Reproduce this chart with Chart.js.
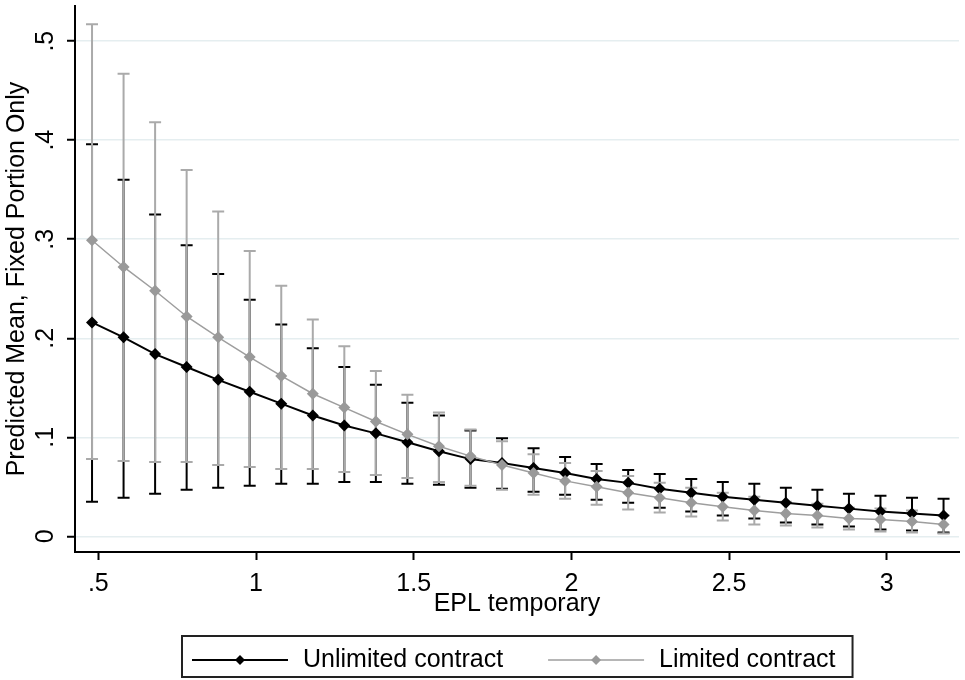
<!DOCTYPE html>
<html>
<head>
<meta charset="utf-8">
<title>Predicted mean by EPL temporary</title>
<script src="https://cdn.jsdelivr.net/npm/chart.js@4.4.1/dist/chart.umd.min.js"></script>
<style>
  html, body { margin: 0; padding: 0; background: #fff; }
  canvas { display: block; }
</style>
</head>
<body>
<canvas id="marginsChart" width="965" height="680"></canvas>
<script>
const eplTemporary = [0.48, 0.58, 0.68, 0.78, 0.88, 0.98, 1.08, 1.18, 1.28, 1.38,
                      1.48, 1.58, 1.68, 1.78, 1.88, 1.98, 2.08, 2.18, 2.28, 2.38,
                      2.48, 2.58, 2.68, 2.78, 2.88, 2.98, 3.08, 3.18];

const unlimitedMean = [0.216, 0.201, 0.184, 0.171, 0.158, 0.146, 0.134, 0.122, 0.112, 0.104,
                       0.095, 0.086, 0.078, 0.074, 0.069, 0.064, 0.058, 0.054, 0.048, 0.044,
                       0.040, 0.037, 0.034, 0.031, 0.028, 0.025, 0.023, 0.021];
const unlimitedLow  = [0.035, 0.039, 0.043, 0.047, 0.049, 0.051, 0.053, 0.053, 0.055, 0.055,
                       0.053, 0.052, 0.049, 0.048, 0.045, 0.042, 0.037, 0.034, 0.029, 0.025,
                       0.021, 0.018, 0.014, 0.012, 0.010, 0.007, 0.006, 0.004];
const unlimitedHigh = [0.396, 0.360, 0.325, 0.294, 0.265, 0.239, 0.214, 0.190, 0.171, 0.153,
                       0.135, 0.122, 0.107, 0.099, 0.089, 0.080, 0.073, 0.067, 0.063, 0.058,
                       0.055, 0.053, 0.049, 0.047, 0.043, 0.041, 0.039, 0.038];

const limitedMean = [0.299, 0.272, 0.248, 0.222, 0.201, 0.181, 0.162, 0.144, 0.130, 0.116,
                     0.103, 0.091, 0.081, 0.072, 0.064, 0.056, 0.050, 0.044, 0.039, 0.034,
                     0.030, 0.026, 0.023, 0.021, 0.018, 0.017, 0.015, 0.012];
const limitedLow  = [0.078, 0.076, 0.075, 0.075, 0.072, 0.070, 0.068, 0.068, 0.065, 0.062,
                     0.059, 0.055, 0.051, 0.047, 0.042, 0.038, 0.032, 0.027, 0.024, 0.020,
                     0.016, 0.012, 0.011, 0.009, 0.007, 0.005, 0.004, 0.003];
const limitedHigh = [0.517, 0.467, 0.418, 0.370, 0.328, 0.288, 0.253, 0.219, 0.192, 0.167,
                     0.143, 0.125, 0.108, 0.096, 0.083, 0.074, 0.066, 0.061, 0.054, 0.049,
                     0.044, 0.040, 0.035, 0.033, 0.029, 0.028, 0.026, 0.021];

const xTickValues = [0.5, 1, 1.5, 2, 2.5, 3];
const yTickValues = [0, 0.1, 0.2, 0.3, 0.4, 0.5];
const seriesLabels = ['Unlimited contract', 'Limited contract'];

const FONT = "'Liberation Sans', Arial, sans-serif";

// Stata style labels: .5 instead of 0.5
const stataLabel = v => v === 0 ? '0' : String(+v.toFixed(2)).replace(/^0\./, '.');

const toPoints = ys => eplTemporary.map((x, i) => ({ x: x, y: ys[i] }));

// confidence intervals as capped spikes, drawn under the lines
const errorBars = {
  id: 'errorBars',
  beforeDatasetsDraw(chart) {
    const { ctx, scales: { x, y } } = chart;
    chart.data.datasets.forEach(ds => {
      ctx.save();
      ctx.strokeStyle = ds.ciColor;
      ctx.lineWidth = 2;
      ds.ciLow.forEach((lo, i) => {
        const px = x.getPixelForValue(eplTemporary[i]);
        const yLo = y.getPixelForValue(lo);
        const yHi = y.getPixelForValue(ds.ciHigh[i]);
        ctx.beginPath();
        ctx.moveTo(px, yLo); ctx.lineTo(px, yHi);
        ctx.moveTo(px - 6, yLo); ctx.lineTo(px + 6, yLo);
        ctx.moveTo(px - 6, yHi); ctx.lineTo(px + 6, yHi);
        ctx.stroke();
      });
      ctx.restore();
    });
  }
};

// boxed legend with line + diamond keys, like Stata's
const stataLegend = {
  id: 'stataLegend',
  afterDraw(chart) {
    const { ctx, chartArea } = chart;
    ctx.save();
    ctx.font = '25px ' + FONT;
    const items = chart.data.datasets.map(ds => ({
      label: ds.label,
      line: ds.borderColor,
      lw: ds.borderWidth,
      fill: ds.pointBackgroundColor,
      tw: ctx.measureText(ds.label).width
    }));
    const symW = 96, gapSym = 15, gapItem = 45, padL = 10, padR = 17;
    let total = padL + padR + gapItem * (items.length - 1);
    items.forEach(it => { total += symW + gapSym + it.tw; });
    const left = Math.round((chartArea.left + chartArea.right) / 2 - total / 2);
    const top = 636, h = 41, cy = 660;

    ctx.strokeStyle = '#222';
    ctx.lineWidth = 2;
    ctx.strokeRect(left, top, total, h);

    let cx = left + padL;
    items.forEach(it => {
      ctx.strokeStyle = it.line;
      ctx.lineWidth = it.lw;
      ctx.beginPath();
      ctx.moveTo(cx, cy); ctx.lineTo(cx + symW, cy);
      ctx.stroke();
      const mx = cx + symW / 2, r = 5;
      ctx.fillStyle = it.fill;
      ctx.beginPath();
      ctx.moveTo(mx, cy - r); ctx.lineTo(mx + r, cy);
      ctx.lineTo(mx, cy + r); ctx.lineTo(mx - r, cy);
      ctx.closePath();
      ctx.fill();
      cx += symW + gapSym;
      ctx.fillStyle = '#000';
      ctx.textBaseline = 'middle';
      ctx.textAlign = 'left';
      ctx.fillText(it.label, cx, cy);
      cx += it.tw + gapItem;
    });
    ctx.restore();
  }
};

const chart = new Chart(document.getElementById('marginsChart'), {
  type: 'line',
  data: {
    datasets: [{
      label: seriesLabels[0],
      data: toPoints(unlimitedMean),
      borderColor: '#000',
      borderWidth: 2,
      pointStyle: 'rectRot',
      pointRadius: 6,
      pointBackgroundColor: '#000',
      pointBorderColor: '#000',
      pointBorderWidth: 0,
      order: 1,
      ciLow: unlimitedLow,
      ciHigh: unlimitedHigh,
      ciColor: '#000'
    }, {
      label: seriesLabels[1],
      data: toPoints(limitedMean),
      borderColor: '#9e9e9e',
      borderWidth: 1.5,
      pointStyle: 'rectRot',
      pointRadius: 6,
      pointBackgroundColor: '#999',
      pointBorderColor: '#999',
      pointBorderWidth: 0,
      order: 0,
      ciLow: limitedLow,
      ciHigh: limitedHigh,
      ciColor: '#aaa'
    }]
  },
  options: {
    responsive: false,
    animation: false,
    events: [],
    layout: { padding: { top: 5, right: 0, bottom: 0, left: 0 } },
    plugins: {
      legend: { display: false },
      tooltip: { enabled: false }
    },
    scales: {
      x: {
        type: 'linear',
        min: 0.426,
        max: 3.229,
        afterBuildTicks: s => { s.ticks = xTickValues.map(v => ({ value: v })); },
        afterFit: s => { s.height = 128; s.paddingLeft = 0; s.paddingRight = 0; },
        grid: { drawOnChartArea: false, tickColor: '#000', tickLength: 8, tickWidth: 2 },
        border: { color: '#000', width: 2 },
        ticks: {
          color: '#000',
          font: { family: FONT, size: 25 },
          padding: 9,
          maxRotation: 0,
          autoSkip: false,
          callback: v => stataLabel(v)
        },
        title: {
          display: true,
          text: 'EPL temporary',
          color: '#000',
          font: { family: FONT, size: 25 },
          padding: { top: 0, bottom: 61 }
        }
      },
      y: {
        type: 'linear',
        min: -0.0158,
        max: 0.5355,
        afterBuildTicks: s => { s.ticks = yTickValues.map(v => ({ value: v })); },
        afterFit: s => { s.width = 75; s.paddingTop = 0; s.paddingBottom = 0; },
        grid: { color: '#e5eef0', lineWidth: 1.5, tickColor: '#000', tickLength: 8, tickWidth: 2 },
        border: { color: '#000', width: 2 },
        ticks: {
          color: '#000',
          font: { family: FONT, size: 25 },
          minRotation: 90,
          maxRotation: 90,
          crossAlign: 'center',
          padding: 10,
          autoSkip: false,
          callback: v => stataLabel(v)
        },
        title: {
          display: true,
          text: 'Predicted Mean, Fixed Portion Only',
          color: '#000',
          font: { family: FONT, size: 25 },
          padding: { top: 2, bottom: 0 }
        }
      }
    }
  },
  plugins: [errorBars, stataLegend]
});
</script>
</body>
</html>
